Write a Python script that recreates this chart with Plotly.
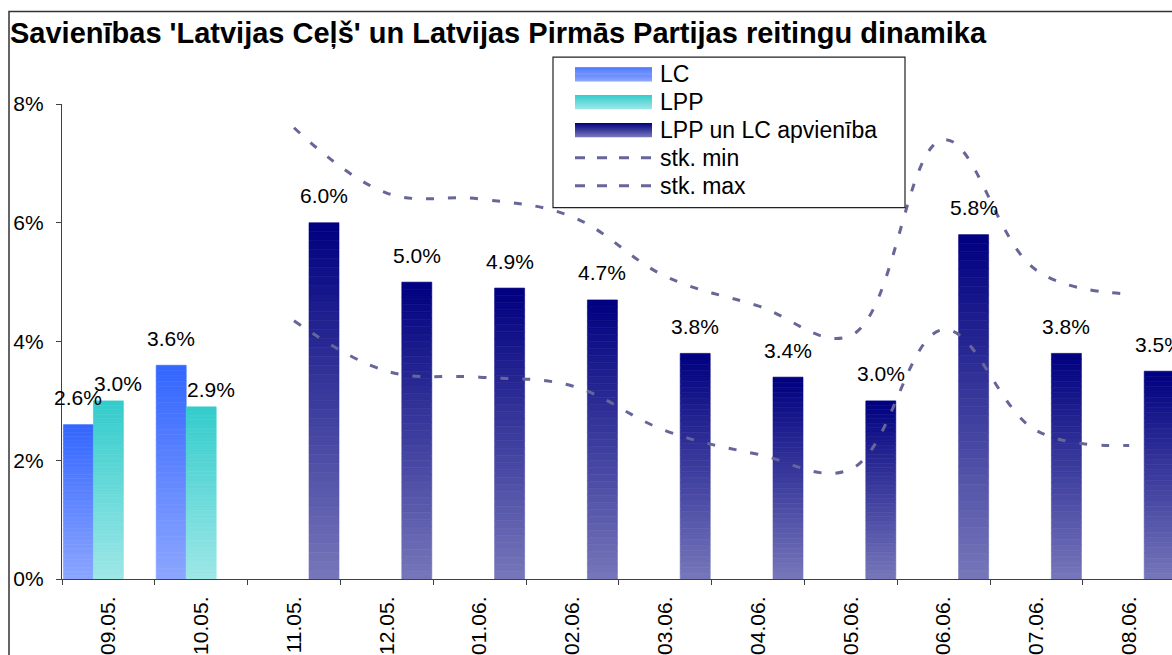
import plotly.graph_objects as go

# ---------------- data ----------------
categories = ["09.05.", "10.05.", "11.05.", "12.05.", "01.06.", "02.06.",
              "03.06.", "04.06.", "05.06.", "06.06.", "07.06.", "08.06."]
lc = [2.6, 3.6, None, None, None, None, None, None, None, None, None, None]
lpp = [3.0, 2.9, None, None, None, None, None, None, None, None, None, None]
union = [None, None, 6.0, 5.0, 4.9, 4.7, 3.8, 3.4, 3.0, 5.8, 3.8, 3.5]
stk_min = [None, None, 4.35, 3.5, 3.4, 3.25, 2.5, 2.1, 1.85, 4.2, 2.5, 2.25]
stk_max = [None, None, 7.6, 6.5, 6.4, 6.1, 5.1, 4.6, 4.1, 7.4, 5.2, 4.8]
y_ticks = [0, 2, 4, 6, 8]
y_tick_labels = ["0%", "2%", "4%", "6%", "8%"]
bar_names = ["LC", "LPP", "LPP un LC apvienība"]
line_names = ["stk. min", "stk. max"]
title_text = "Savienības 'Latvijas Ceļš' un Latvijas Pirmās Partijas reitingu dinamika"

# ---------------- styling ----------------
FONT = "Liberation Sans, Arial, sans-serif"
L, T, PW, PH = 62, 104, 1110, 477          # plot area in px
CAT_PX = 92.8                              # width of one category in px
BARGAP = 0.03
LINE_COL = "#666699"
TXT = 21

bar_styles = [
    dict(top="#3366FF", bottom="#8CA6FF", group="a_lc", dx=0, dy=27),
    dict(top="#33CCCC", bottom="#9EE7E7", group="b_lpp", dx=10, dy=17),
    dict(top="#000080", bottom="#7676BA", group="c_union", dx=0, dy=27),
]
bar_values = [lc, lpp, union]
N_SEG = 40


def hex2rgb(h):
    h = h.lstrip("#")
    return tuple(int(h[i:i + 2], 16) for i in (0, 2, 4))


def mix(c_bottom, c_top, t):
    a, b = hex2rgb(c_bottom), hex2rgb(c_top)
    r = [round(a[k] + (b[k] - a[k]) * t) for k in range(3)]
    return "rgb(%d,%d,%d)" % tuple(r)


def px(x):
    return (x - L) / PW


def py(y):
    return (T + PH - y) / PH


fig = go.Figure()

# gradient bars: each bar split into stacked segments (same offsetgroup)
for vals, st in zip(bar_values, bar_styles):
    for i in range(N_SEG):
        col = mix(st["bottom"], st["top"], (i + 0.5) / N_SEG)
        seg = [None if v is None else v / N_SEG for v in vals]
        base = [0 if v is None else v * i / N_SEG for v in vals]
        fig.add_trace(go.Bar(
            x=categories, y=seg, base=base, offsetgroup=st["group"],
            marker=dict(color=col, line=dict(color=col, width=0.6)),
            showlegend=False, hoverinfo="skip"))

# dashed smoothed lines
for vals, nm in zip([stk_min, stk_max], line_names):
    fig.add_trace(go.Scatter(
        x=categories, y=vals, mode="lines", name=nm, connectgaps=False,
        line=dict(color=LINE_COL, width=3, dash="8px,14px",
                  shape="spline", smoothing=1.1),
        showlegend=False, hoverinfo="skip"))

# data labels
bar_w = CAT_PX * (1 - BARGAP) / 3
annotations = []
for k, (vals, st) in enumerate(zip(bar_values, bar_styles)):
    for c, v in zip(categories, vals):
        if v is None:
            continue
        annotations.append(dict(
            x=c, y=v, xref="x", yref="y", text="%.1f%%" % v, showarrow=False,
            xshift=(k - 1) * bar_w + st["dx"], yshift=st["dy"],
            yanchor="middle", xanchor="center",
            font=dict(family=FONT, size=TXT, color="black")))

# custom legend
shapes = []
LEG = dict(x0=553, x1=905, y0=57, y1=208)
shapes.append(dict(type="rect", xref="paper", yref="paper",
                   x0=px(LEG["x0"]), x1=px(LEG["x1"]),
                   y0=py(LEG["y1"]), y1=py(LEG["y0"]),
                   line=dict(color="#222222", width=1.2), fillcolor="white",
                   layer="above"))
rows = [74, 102, 130, 158, 186]
SW_X0, SW_X1, SW_H = 575, 652, 14
for r, st in zip(rows[:3], bar_styles):
    n = 14
    for j in range(n):
        ytop = r - SW_H / 2 + j * SW_H / n
        col = mix(st["bottom"], st["top"], 1 - (j + 0.5) / n)
        shapes.append(dict(type="rect", xref="paper", yref="paper",
                           x0=px(SW_X0), x1=px(SW_X1),
                           y0=py(ytop + SW_H / n + 0.3), y1=py(ytop),
                           line=dict(width=0), fillcolor=col, layer="above"))
for r in rows[3:]:
    shapes.append(dict(type="line", xref="paper", yref="paper",
                       x0=px(SW_X0), x1=px(SW_X1), y0=py(r), y1=py(r),
                       line=dict(color=LINE_COL, width=3, dash="10px,12px"),
                       layer="above"))
for r, nm in zip(rows, bar_names + line_names):
    annotations.append(dict(
        x=px(658), y=py(r), xref="paper", yref="paper", text=nm,
        showarrow=False, xanchor="left", yanchor="middle",
        font=dict(family=FONT, size=23, color="black")))

# outer chart frame
shapes.append(dict(type="rect", xref="paper", yref="paper",
                   x0=px(9), x1=px(1300), y0=py(720), y1=py(11),
                   line=dict(color="#333333", width=1.5), layer="below"))

fig.update_layout(
    width=1172, height=655,
    margin=dict(l=L, r=0, t=T, b=655 - T - PH, pad=0),
    plot_bgcolor="white", paper_bgcolor="white",
    barmode="group", bargap=BARGAP, bargroupgap=0,
    showlegend=False,
    font=dict(family=FONT, size=TXT, color="black"),
    title=dict(text=title_text, x=10 / 1172, xanchor="left",
               y=1 - 33 / 655, yanchor="middle",
               xref="container", yref="container",
               font=dict(family=FONT, size=29, color="black", weight="bold")),
    annotations=annotations, shapes=shapes,
)
fig.update_xaxes(
    type="category", range=[-0.5, -0.5 + PW / CAT_PX],
    showline=True, linecolor="#404040", linewidth=1.2,
    ticks="outside", ticklen=5, tickcolor="#404040", tickwidth=1.2,
    tickson="boundaries", tickangle=-90, ticklabelstandoff=8,
    tickfont=dict(family=FONT, size=TXT, color="black"),
    showgrid=False, zeroline=False, fixedrange=True)
fig.update_yaxes(
    range=[0, 8], tickvals=y_ticks, ticktext=y_tick_labels,
    showline=True, linecolor="#404040", linewidth=1.2,
    ticks="outside", ticklen=5, tickcolor="#404040", tickwidth=1.2,
    ticklabelstandoff=8,
    tickfont=dict(family=FONT, size=TXT, color="black"),
    showgrid=False, zeroline=False, fixedrange=True)

fig.write_html("out.html",
               config={"displayModeBar": False},
               post_script="document.body.style.margin='0';"
                           "document.body.style.overflow='hidden';")
